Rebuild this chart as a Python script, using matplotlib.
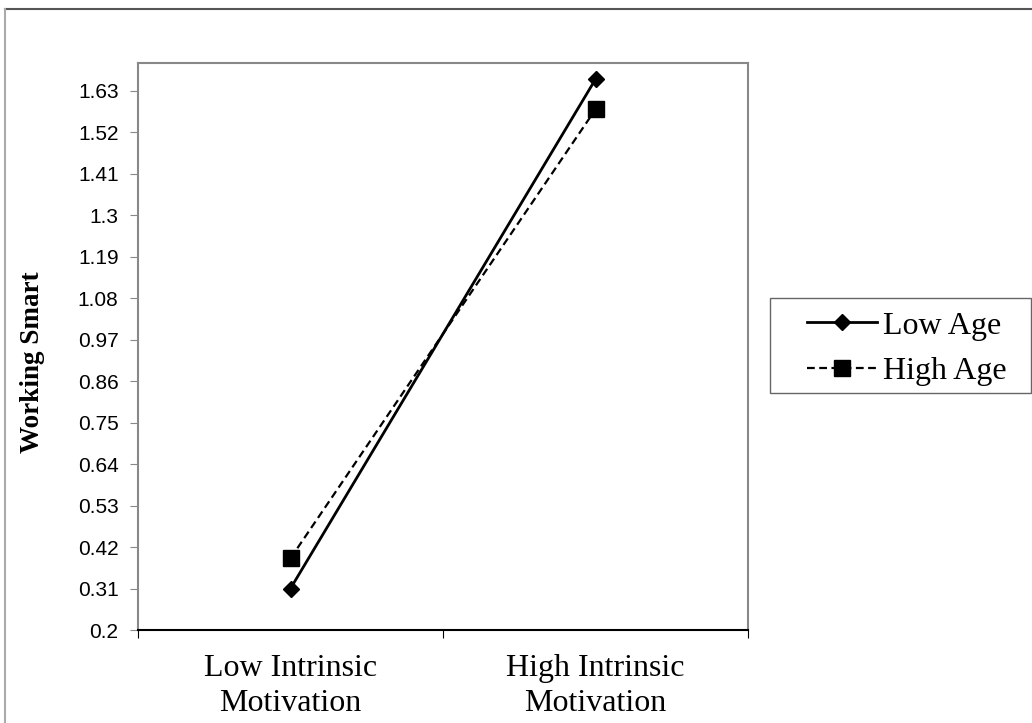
import matplotlib.pyplot as plt
from matplotlib.lines import Line2D
from matplotlib.patches import Rectangle

categories = ["Low Intrinsic\nMotivation", "High Intrinsic\nMotivation"]
low_age = [0.31, 1.66]
high_age = [0.39, 1.58]
y_ticks = [0.2, 0.31, 0.42, 0.53, 0.64, 0.75, 0.86, 0.97, 1.08, 1.19, 1.3, 1.41, 1.52, 1.63]
y_tick_labels = ["0.2", "0.31", "0.42", "0.53", "0.64", "0.75", "0.86", "0.97",
                 "1.08", "1.19", "1.3", "1.41", "1.52", "1.63"]

W, H = 1032, 723
fig = plt.figure(figsize=(W / 100, H / 100), dpi=100)

# outer chart frame (only top and left edges show)
fig.add_artist(Line2D([5 / W, 1], [1 - 9 / H, 1 - 9 / H],
                      transform=fig.transFigure, color="#555555", lw=1.5))
fig.add_artist(Line2D([5 / W, 5 / W], [0, 1 - 9 / H],
                      transform=fig.transFigure, color="#aaaaaa", lw=1.5))

ax = fig.add_axes([138 / W, 93 / H, 610 / W, 567 / H])

x = [0.5, 1.5]
ax.plot(x, low_age, color="black", lw=2, marker="D", markersize=8,
        label="Low Age")
ax.plot(x, high_age, color="black", lw=1.6, ls=(0, (3.5, 2)), marker="s",
        markersize=11, label="High Age")

ax.set_xlim(0, 2)
ax.set_ylim(0.2, 1.703)
ax.set_xticks([0, 1, 2])
ax.set_xticklabels([])
ax.set_xticks(x, minor=True)
ax.set_xticklabels(categories, minor=True, fontfamily="Liberation Serif",
                   fontsize=23, linespacing=1.28)
ax.tick_params(axis="x", which="minor", length=0, pad=17)
ax.tick_params(axis="x", which="major", direction="out", length=6)

ax.set_yticks(y_ticks)
ax.set_yticklabels(y_tick_labels, fontfamily="Liberation Sans", fontsize=15)
ax.tick_params(axis="y", direction="out", length=6, color="#888888", pad=8)

for side in ["top", "right", "left"]:
    ax.spines[side].set_color("#888888")
    ax.spines[side].set_linewidth(1.5)
ax.spines["bottom"].set_color("black")
ax.spines["bottom"].set_linewidth(1.5)

ax.set_ylabel("Working Smart", fontfamily="Liberation Serif", fontweight="bold",
              fontsize=19.5, va="center")
ax.yaxis.set_label_coords(-(138 - 33) / 610, 0.473)

# legend box drawn by hand, legend itself without frame
fig.add_artist(Rectangle((770 / W, 1 - 393 / H), (1031 - 770) / W, 95 / H,
                         transform=fig.transFigure, fill=False,
                         edgecolor="#666666", lw=1.0))
leg = fig.legend(loc="center left", bbox_to_anchor=(807 / W, 1 - 348.5 / H),
                 prop={"family": "Liberation Serif", "size": 23},
                 frameon=False, handlelength=2.19, borderpad=0,
                 labelspacing=0.5, handletextpad=0.19, borderaxespad=0)

fig.savefig("out.png", dpi=100, facecolor="white")
